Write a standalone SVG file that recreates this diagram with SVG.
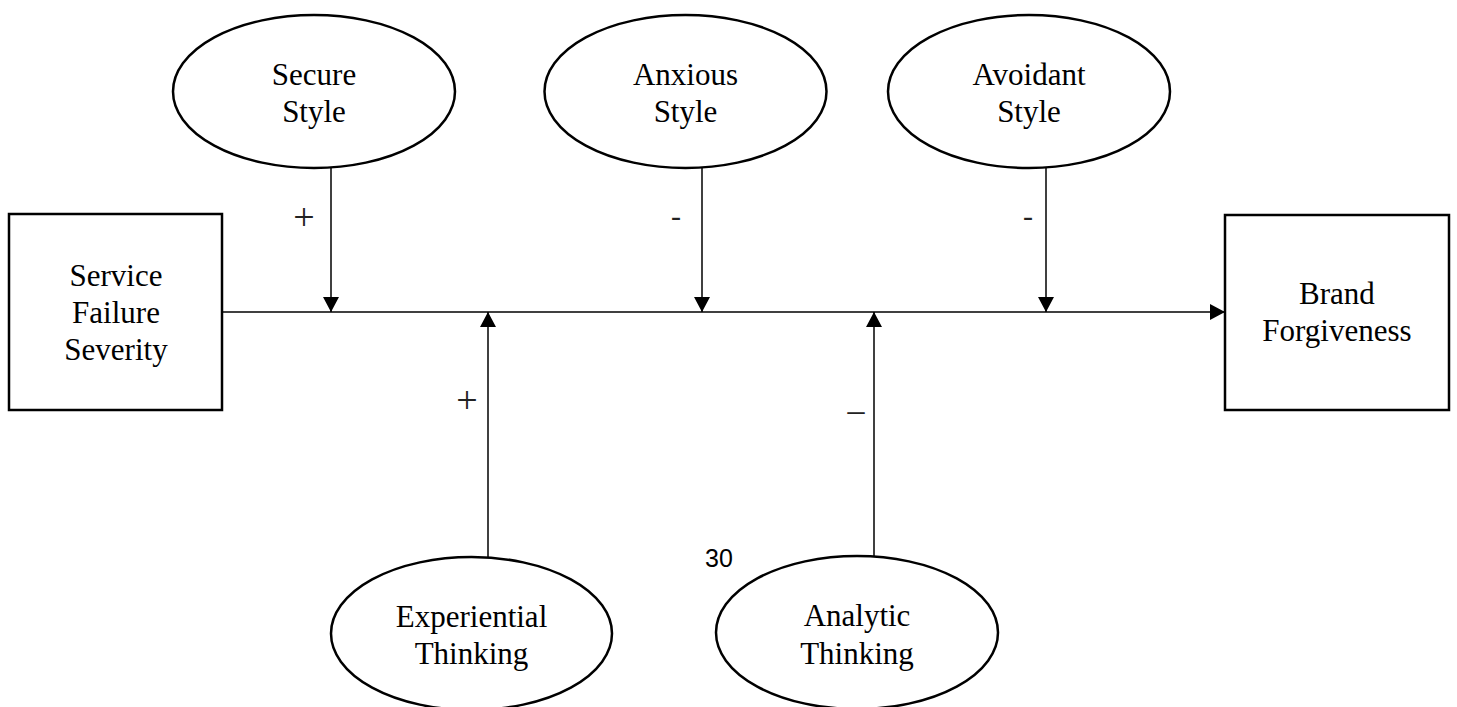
<svg xmlns="http://www.w3.org/2000/svg" width="1457" height="707" viewBox="0 0 1457 707">
<style>
.node { fill: #fff; stroke: #000; stroke-width: 2.5; }
.lbl { font-family: "Liberation Serif", "Times New Roman", serif; font-size: 31px; fill: #000; text-anchor: middle; }
.sign { font-family: "Liberation Serif", "Times New Roman", serif; font-size: 30px; fill: #222; text-anchor: middle; }
.plus { font-size: 38px; }
.conn { stroke: #000; stroke-width: 1.5; fill: none; }
.page { font-family: "Liberation Sans", Arial, sans-serif; font-size: 25px; fill: #000; }
</style>
<defs>
<marker id="arr" markerUnits="userSpaceOnUse" markerWidth="16" markerHeight="16" viewBox="0 0 15 16" refX="15" refY="8" orient="auto">
<path d="M0,0 L15,8 L0,16 Z" fill="#000"/>
</marker>
</defs>
<g id="connectors">
<line class="conn" x1="222" y1="312" x2="1225" y2="312" marker-end="url(#arr)"/>
<line class="conn" x1="331" y1="168" x2="331" y2="312" marker-end="url(#arr)"/>
<line class="conn" x1="702" y1="168" x2="702" y2="312" marker-end="url(#arr)"/>
<line class="conn" x1="1046" y1="168" x2="1046" y2="312" marker-end="url(#arr)"/>
<line class="conn" x1="488" y1="557" x2="488" y2="312" marker-end="url(#arr)"/>
<line class="conn" x1="874" y1="556" x2="874" y2="312" marker-end="url(#arr)"/>
<text class="sign plus" x="304" y="230">+</text>
<text class="sign" x="676" y="226">-</text>
<text class="sign" x="1028" y="226">-</text>
<text class="sign plus" x="467" y="413">+</text>
<text class="sign" x="856" y="421" style="font-size:34px">–</text>
</g>
<g id="service-failure-severity">
<rect class="node" x="9" y="214" width="213" height="196"/>
<text class="lbl" x="116" y="286">Service</text>
<text class="lbl" x="116" y="323">Failure</text>
<text class="lbl" x="116" y="360">Severity</text>
</g>
<g id="brand-forgiveness">
<rect class="node" x="1225" y="215" width="224" height="195"/>
<text class="lbl" x="1337" y="304">Brand</text>
<text class="lbl" x="1337" y="341">Forgiveness</text>
</g>
<g id="secure-style">
<ellipse class="node" cx="314" cy="91.5" rx="141" ry="76.5"/>
<text class="lbl" x="314" y="85">Secure</text>
<text class="lbl" x="314" y="122">Style</text>
</g>
<g id="anxious-style">
<ellipse class="node" cx="685.5" cy="91.5" rx="141" ry="76.5"/>
<text class="lbl" x="685.5" y="85">Anxious</text>
<text class="lbl" x="685.5" y="122">Style</text>
</g>
<g id="avoidant-style">
<ellipse class="node" cx="1029" cy="91.5" rx="141" ry="76.5"/>
<text class="lbl" x="1029" y="85">Avoidant</text>
<text class="lbl" x="1029" y="122">Style</text>
</g>
<g id="experiential-thinking">
<ellipse class="node" cx="471.5" cy="633.5" rx="140.5" ry="76.5"/>
<text class="lbl" x="471.5" y="627">Experiential</text>
<text class="lbl" x="471.5" y="664">Thinking</text>
</g>
<g id="analytic-thinking">
<ellipse class="node" cx="857" cy="632.5" rx="141" ry="76.5"/>
<text class="lbl" x="857" y="626">Analytic</text>
<text class="lbl" x="857" y="664">Thinking</text>
</g>
<text class="page" x="705" y="567">30</text>
</svg>
